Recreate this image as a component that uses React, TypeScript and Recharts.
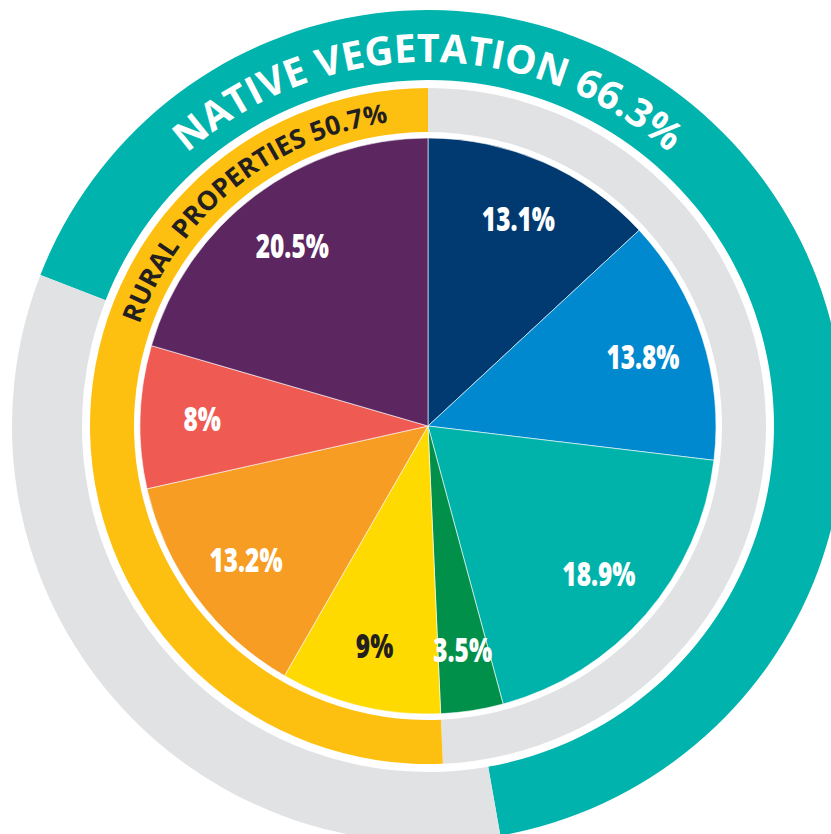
import { PieChart, Pie, Cell } from "recharts";

// inner pie, clockwise from 12 o'clock
const slices = ["a", "b", "c", "d", "e", "f", "g", "h"];
const sliceValues = [13.1, 13.8, 18.9, 3.5, 9, 13.2, 8, 20.5];
const sliceColors = [
  "#003A70",
  "#0089CF",
  "#00B3AA",
  "#00904A",
  "#FFDA00",
  "#F79D23",
  "#EF5A52",
  "#5C2660",
];
const sliceTextColors = ["#fff", "#fff", "#fff", "#fff", "#231F20", "#fff", "#fff", "#fff"];

// middle ring: rest vs rural properties
const ruralNames = ["Other", "Rural properties"];
const ruralValues = [49.3, 50.7];
const ruralColors = ["#E1E2E4", "#FEC010"];

// outer ring: native vegetation vs rest
const nativeNames = ["Native vegetation", "Other"];
const nativeValues = [66.3, 33.7];
const nativeColors = ["#00B3AD", "#E1E2E4"];

const CX = 428;
const CY = 426;
const RAD = Math.PI / 180;
const FONT = "'Open Sans', 'Noto Sans', sans-serif";

const pieData = slices.map((id, i) => ({ id, value: sliceValues[i] }));
const ruralData = ruralNames.map((name, i) => ({ name, value: ruralValues[i] }));
const nativeData = nativeNames.map((name, i) => ({ name, value: nativeValues[i] }));

// arc going clockwise, angles measured clockwise from 12 o'clock
function arcPath(cx: number, cy: number, r: number, a0: number, a1: number) {
  const pt = (a: number) => [cx + r * Math.sin(a * RAD), cy - r * Math.cos(a * RAD)];
  const [x0, y0] = pt(a0);
  const [x1, y1] = pt(a1);
  const large = a1 - a0 > 180 ? 1 : 0;
  return `M${x0},${y0} A${r},${r} 0 ${large} 1 ${x1},${y1}`;
}

function ArcText(props: any) {
  const { id, cx, cy, r, center, span, text, fill, size } = props;
  return (
    <g>
      <defs>
        <path id={id} d={arcPath(cx, cy, r, center - span / 2, center + span / 2)} fill="none" />
      </defs>
      <text fill={fill} fontSize={size} fontWeight={700} fontFamily={FONT}>
        <textPath href={`#${id}`} startOffset="50%" textAnchor="middle">
          {text}
        </textPath>
      </text>
    </g>
  );
}

const renderSliceLabel = (props: any) => {
  const { cx, cy, midAngle, index, value } = props;
  const r = 226;
  const x = cx + r * Math.cos(-midAngle * RAD);
  const y = cy + r * Math.sin(-midAngle * RAD);
  // labels in the original use a condensed face
  return (
    <text
      x={0}
      y={0}
      transform={`translate(${x},${y}) scale(0.74,1)`}
      fill={sliceTextColors[index]}
      textAnchor="middle"
      dominantBaseline="central"
      fontSize={33}
      fontWeight={800}
      fontFamily={FONT}
    >
      {`${value}%`}
    </text>
  );
};

const renderRuralLabel = (props: any) => {
  if (props.index !== 1) return null;
  return (
    <ArcText
      id="rural-arc"
      cx={props.cx}
      cy={props.cy}
      r={306}
      center={-39}
      span={100}
      text={`RURAL PROPERTIES ${ruralValues[1]}%`}
      fill="#231F20"
      size={26.5}
    />
  );
};

const renderNativeLabel = (props: any) => {
  if (props.index !== 0) return null;
  return (
    <ArcText
      id="native-arc"
      cx={props.cx}
      cy={props.cy}
      r={364}
      center={0}
      span={150}
      text={`NATIVE VEGETATION ${nativeValues[0]}%`}
      fill="#fff"
      size={39.5}
    />
  );
};

export default function App() {
  return (
    <div
      style={{
        position: "absolute",
        left: 0,
        top: 0,
        width: 831,
        height: 834,
        background: "#fff",
        overflow: "hidden",
      }}
    >
      <PieChart width={831} height={834} margin={{ top: 0, right: 0, bottom: 0, left: 0 }}>
        <Pie
          data={nativeData}
          dataKey="value"
          cx={CX}
          cy={CY}
          innerRadius={346}
          outerRadius={416}
          startAngle={158.7}
          endAngle={-201.3}
          stroke="none"
          label={renderNativeLabel}
          labelLine={false}
          isAnimationActive={false}
        >
          {nativeData.map((d, i) => (
            <Cell key={d.name} fill={nativeColors[i]} />
          ))}
        </Pie>
        <Pie
          data={ruralData}
          dataKey="value"
          cx={CX}
          cy={CY}
          innerRadius={294}
          outerRadius={338}
          startAngle={90}
          endAngle={-270}
          stroke="none"
          label={renderRuralLabel}
          labelLine={false}
          isAnimationActive={false}
        >
          {ruralData.map((d, i) => (
            <Cell key={d.name} fill={ruralColors[i]} />
          ))}
        </Pie>
        <Pie
          data={pieData}
          dataKey="value"
          cx={CX}
          cy={CY}
          innerRadius={0}
          outerRadius={288}
          startAngle={90}
          endAngle={-270}
          stroke="#ffffff"
          strokeWidth={0.6}
          label={renderSliceLabel}
          labelLine={false}
          isAnimationActive={false}
        >
          {pieData.map((d, i) => (
            <Cell key={d.id} fill={sliceColors[i]} />
          ))}
        </Pie>
      </PieChart>
    </div>
  );
}
